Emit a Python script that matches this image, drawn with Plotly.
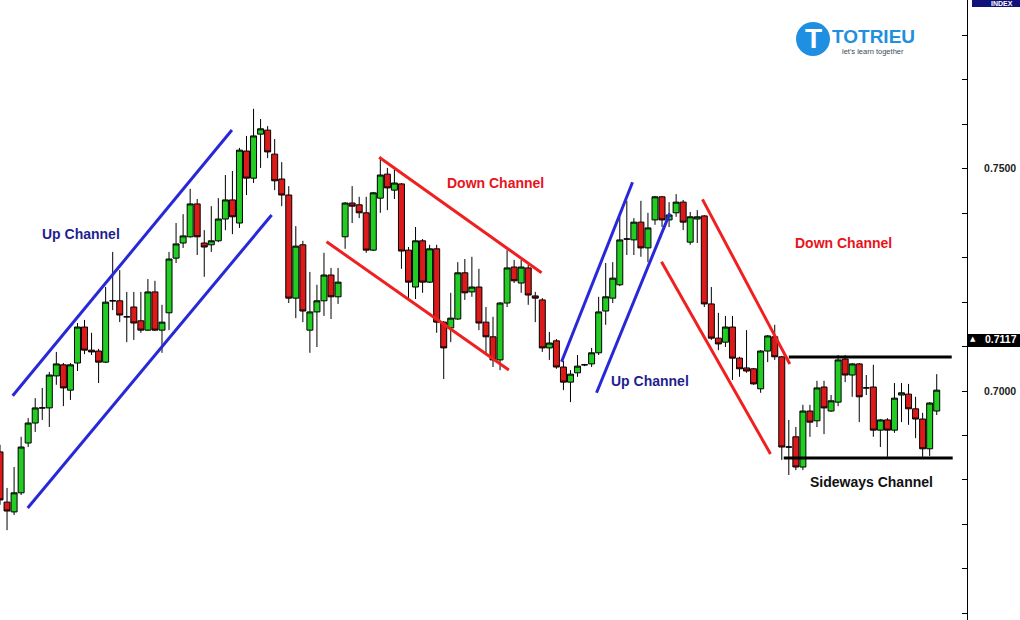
import plotly.graph_objects as go

# ---------------- data ----------------
OPEN = [0.6863, 0.6750, 0.6728, 0.6771, 0.6883, 0.6928, 0.6962, 0.6962, 0.7034, 0.7059,
        0.7002, 0.7063, 0.7144, 0.7092, 0.7090, 0.7065, 0.7203, 0.7203, 0.7167, 0.7189,
        0.7158, 0.7137, 0.7223, 0.7137, 0.7176, 0.7299, 0.7333, 0.7347, 0.7421, 0.7333,
        0.7329, 0.7338, 0.7387, 0.7430, 0.7378, 0.7540, 0.7479, 0.7578, 0.7587, 0.7533,
        0.7477, 0.7441, 0.7209, 0.7329, 0.7137, 0.7178, 0.7203, 0.7261, 0.7212, 0.7347,
        0.7423, 0.7419, 0.7401, 0.7317, 0.7434, 0.7488, 0.7452, 0.7466, 0.7317, 0.7234,
        0.7338, 0.7245, 0.7320, 0.7155, 0.7142, 0.7162, 0.7266, 0.7223, 0.7234, 0.7155,
        0.7122, 0.7070, 0.7198, 0.7279, 0.7243, 0.7277, 0.7214, 0.7205, 0.7097, 0.7113,
        0.7054, 0.7020, 0.7041, 0.7059, 0.7061, 0.7086, 0.7180, 0.7209, 0.7239, 0.7342,
        0.7340, 0.7380, 0.7322, 0.7385, 0.7437, 0.7385, 0.7401, 0.7425, 0.7335, 0.7387,
        0.7394, 0.7196, 0.7119, 0.7110, 0.7144, 0.7074, 0.7052, 0.7050, 0.7005, 0.7090,
        0.7122, 0.7077, 0.6874, 0.6897, 0.6829, 0.6955, 0.6933, 0.7009, 0.6955, 0.6975,
        0.7072, 0.7036, 0.7061, 0.7007, 0.7009, 0.6912, 0.6935, 0.6912, 0.6991, 0.6993,
        0.6960, 0.6937, 0.6870, 0.6955]
HIGH = [0.6879, 0.6782, 0.6829, 0.6897, 0.6939, 0.6984, 0.7007, 0.7043, 0.7088, 0.7063,
        0.7063, 0.7153, 0.7160, 0.7131, 0.7095, 0.7234, 0.7313, 0.7272, 0.7223, 0.7223,
        0.7223, 0.7252, 0.7248, 0.7194, 0.7313, 0.7378, 0.7398, 0.7455, 0.7432, 0.7362,
        0.7416, 0.7434, 0.7486, 0.7495, 0.7547, 0.7574, 0.7635, 0.7612, 0.7596, 0.7567,
        0.7515, 0.7461, 0.7371, 0.7338, 0.7268, 0.7239, 0.7311, 0.7277, 0.7277, 0.7425,
        0.7461, 0.7437, 0.7437, 0.7448, 0.7527, 0.7502, 0.7500, 0.7468, 0.7324, 0.7369,
        0.7342, 0.7329, 0.7329, 0.7157, 0.7221, 0.7290, 0.7297, 0.7302, 0.7275, 0.7189,
        0.7167, 0.7200, 0.7317, 0.7295, 0.7295, 0.7284, 0.7223, 0.7209, 0.7133, 0.7117,
        0.7068, 0.7047, 0.7081, 0.7061, 0.7097, 0.7212, 0.7288, 0.7290, 0.7392, 0.7428,
        0.7389, 0.7428, 0.7401, 0.7439, 0.7439, 0.7425, 0.7443, 0.7430, 0.7403, 0.7407,
        0.7396, 0.7234, 0.7176, 0.7169, 0.7169, 0.7077, 0.7137, 0.7052, 0.7092, 0.7126,
        0.7149, 0.7079, 0.6935, 0.6919, 0.6969, 0.6969, 0.7023, 0.7023, 0.6991, 0.7081,
        0.7081, 0.7063, 0.7063, 0.7036, 0.7059, 0.6937, 0.6939, 0.7018, 0.7018, 0.7016,
        0.6987, 0.6951, 0.6975, 0.7038]
LOW = [0.6744, 0.6687, 0.6721, 0.6766, 0.6874, 0.6908, 0.6935, 0.6919, 0.7014, 0.6966,
       0.6980, 0.7045, 0.7083, 0.7081, 0.7018, 0.7063, 0.7182, 0.7155, 0.7110, 0.7115,
       0.7131, 0.7135, 0.7135, 0.7086, 0.7137, 0.7288, 0.7322, 0.7345, 0.7306, 0.7257,
       0.7313, 0.7335, 0.7362, 0.7353, 0.7367, 0.7441, 0.7468, 0.7502, 0.7524, 0.7452,
       0.7416, 0.7198, 0.7164, 0.7155, 0.7086, 0.7099, 0.7169, 0.7162, 0.7196, 0.7320,
       0.7378, 0.7389, 0.7311, 0.7315, 0.7401, 0.7407, 0.7432, 0.7275, 0.7205, 0.7207,
       0.7221, 0.7243, 0.7131, 0.7027, 0.7110, 0.7160, 0.7205, 0.7212, 0.7137, 0.7081,
       0.7054, 0.7047, 0.7189, 0.7243, 0.7221, 0.7194, 0.7155, 0.7088, 0.7070, 0.7050,
       0.7002, 0.6975, 0.7032, 0.7056, 0.7054, 0.7081, 0.7149, 0.7198, 0.7236, 0.7306,
       0.7306, 0.7302, 0.7290, 0.7374, 0.7369, 0.7369, 0.7392, 0.7362, 0.7329, 0.7333,
       0.7189, 0.7115, 0.7092, 0.7099, 0.7025, 0.7032, 0.7041, 0.7014, 0.6996, 0.7065,
       0.7070, 0.6845, 0.6811, 0.6822, 0.6822, 0.6897, 0.6919, 0.6903, 0.6953, 0.6966,
       0.7020, 0.6987, 0.6930, 0.6991, 0.6897, 0.6874, 0.6852, 0.6906, 0.6930, 0.6924,
       0.6894, 0.6852, 0.6854, 0.6946]
CLOSE = [0.6755, 0.6730, 0.6771, 0.6874, 0.6928, 0.6962, 0.6962, 0.7036, 0.7061, 0.7007,
         0.7059, 0.7144, 0.7092, 0.7088, 0.7065, 0.7200, 0.7203, 0.7171, 0.7167, 0.7153,
         0.7137, 0.7223, 0.7137, 0.7155, 0.7297, 0.7331, 0.7349, 0.7421, 0.7347, 0.7324,
         0.7338, 0.7387, 0.7430, 0.7392, 0.7542, 0.7479, 0.7574, 0.7590, 0.7538, 0.7473,
         0.7441, 0.7209, 0.7326, 0.7180, 0.7178, 0.7203, 0.7261, 0.7212, 0.7245, 0.7423,
         0.7416, 0.7401, 0.7317, 0.7446, 0.7486, 0.7457, 0.7468, 0.7315, 0.7245, 0.7338,
         0.7245, 0.7320, 0.7155, 0.7097, 0.7164, 0.7266, 0.7221, 0.7234, 0.7153, 0.7122,
         0.7070, 0.7198, 0.7277, 0.7248, 0.7279, 0.7216, 0.7209, 0.7097, 0.7108, 0.7054,
         0.7020, 0.7038, 0.7056, 0.7059, 0.7086, 0.7178, 0.7212, 0.7254, 0.7340, 0.7342,
         0.7380, 0.7322, 0.7367, 0.7437, 0.7385, 0.7396, 0.7425, 0.7380, 0.7392, 0.7392,
         0.7196, 0.7119, 0.7106, 0.7144, 0.7074, 0.7050, 0.7045, 0.7016, 0.7090, 0.7124,
         0.7077, 0.6874, 0.6874, 0.6829, 0.6955, 0.6930, 0.7007, 0.6962, 0.6978, 0.7070,
         0.7036, 0.7061, 0.6987, 0.7007, 0.6912, 0.6935, 0.6912, 0.6984, 0.6996, 0.6960,
         0.6937, 0.6870, 0.6973, 0.7002]
BAR_INDEX = list(range(len(OPEN)))

PRICE_TICKS = [0.65, 0.66, 0.67, 0.68, 0.69, 0.70, 0.71, 0.72, 0.73, 0.74, 0.75, 0.76, 0.77, 0.78]
PRICE_LABELS = ["", "", "", "", "", "0.7000", "", "", "", "", "0.7500", "", "", ""]
LAST_PRICE = 0.7117

# channel lines drawn on the chart: (bar0, price0, bar1, price1, kind)
CHANNEL_LINES = [
    (1.80, 0.69894, 32.93, 0.75873, "up"),
    (3.93, 0.67368, 38.57, 0.73960, "up"),
    (53.84, 0.75258, 76.89, 0.72662, "down"),
    (46.37, 0.73359, 72.25, 0.70473, "down"),
    (79.73, 0.70659, 89.81, 0.74696, "up"),
    (84.70, 0.69962, 95.10, 0.73998, "up"),
    (99.74, 0.74313, 112.14, 0.70608, "down"),
    (93.92, 0.72909, 109.40, 0.68583, "down"),
    (112.0, 0.70765, 135.13, 0.70765, "side"),
    (111.28, 0.68493, 135.27, 0.68493, "side"),
]
# channel labels: (text, bar, price, kind)
CHANNEL_LABELS = [
    ("Up Channel", 11.5, 0.73533, "up"),
    ("Down Channel", 70.4, 0.74680, "down"),
    ("Up Channel", 92.26, 0.70225, "up"),
    ("Down Channel", 119.8, 0.73330, "down"),
    ("Sideways Channel", 123.8, 0.67950, "side"),
]

# ---------------- styles ----------------
W, H = 1020, 620
PLOT_RIGHT = 967
GREEN = "#22cc22"
RED = "#dd1a1a"
LINE_COL = {"up": "#2828d8", "down": "#f02020", "side": "#000000"}
TEXT_COL = {"up": "#1f1f8f", "down": "#e8141b", "side": "#111111"}
LOGO_BLUE = "#1e8fe1"


def px(x):
    return x / PLOT_RIGHT


def py(y):
    return 1 - y / H


def label(text, x, y, size, color, bold=True, family="Liberation Sans, Arial", xref="paper", yref="paper"):
    return dict(text=text, x=x, y=y, xref=xref, yref=yref, showarrow=False,
                xanchor="center", yanchor="middle",
                font=dict(family=family, size=size, color=color, weight="bold" if bold else "normal"))


fig = go.Figure(go.Candlestick(
    x=BAR_INDEX, open=OPEN, high=HIGH, low=LOW, close=CLOSE,
    increasing=dict(line=dict(color="black", width=1), fillcolor=GREEN),
    decreasing=dict(line=dict(color="black", width=1), fillcolor=RED),
    whiskerwidth=0, hoverinfo="skip",
))

shapes = []
for x0, y0, x1, y1, kind in CHANNEL_LINES:
    shapes.append(dict(type="line", xref="x", yref="y", x0=x0, y0=y0, x1=x1, y1=y1,
                       line=dict(color=LINE_COL[kind], width=3)))

annotations = []
for text, bx, by, kind in CHANNEL_LABELS:
    annotations.append(label(text, bx, by, 14, TEXT_COL[kind], xref="x", yref="y"))

# INDEX tab at the top of the price scale
shapes.append(dict(type="rect", xref="paper", yref="paper", x0=px(972), x1=px(1020),
                   y0=py(7), y1=py(0), fillcolor="#12127a", line=dict(width=0)))
annotations.append(label("INDEX", px(1002), py(3.5), 7, "white"))

# last price marker
shapes.append(dict(type="rect", xref="paper", yref="paper", x0=px(967), x1=px(1020),
                   y0=py(347), y1=py(334), fillcolor="#000000", line=dict(width=0)))
annotations.append(label("▲", px(973), LAST_PRICE, 7, "white", bold=False,
                         family="DejaVu Sans", yref="y"))
annotations.append(label(f"{LAST_PRICE:.4f}", px(1001), LAST_PRICE, 10.5, "white", yref="y"))

# logo
shapes.append(dict(type="circle", xref="paper", yref="paper", x0=px(796), x1=px(830),
                   y0=py(56), y1=py(22), fillcolor=LOGO_BLUE, line=dict(width=0)))
annotations.append(label("T", px(813), py(39), 28, "white"))
annotations.append(label("TOTRIEU", px(873), py(36), 19, LOGO_BLUE))
annotations.append(label("let's learn together", px(873), py(51), 7.5, "#3a4a5a", bold=False))

fig.update_layout(
    width=W, height=H,
    margin=dict(l=0, r=W - PLOT_RIGHT, t=0, b=0, pad=0),
    paper_bgcolor="white", plot_bgcolor="white",
    showlegend=False, hovermode=False,
    boxgap=0.15, boxgroupgap=0,
    shapes=shapes, annotations=annotations,
    xaxis=dict(range=[0, 137.3], visible=False, rangeslider=dict(visible=False),
               fixedrange=True),
    yaxis=dict(range=[0.64848, 0.78798], side="right", showgrid=False, zeroline=False,
               showline=True, linecolor="black", linewidth=1,
               tickmode="array", tickvals=PRICE_TICKS, ticktext=PRICE_LABELS,
               ticks="inside", ticklen=5, tickcolor="black", ticklabelstandoff=14,
               tickfont=dict(family="Liberation Sans, Arial", size=10.5, color="#222222",
                             weight="bold"),
               fixedrange=True),
)

fig.write_html("out.html", config={"displayModeBar": False, "staticPlot": True},
               post_script="document.body.style.margin='0';document.body.style.overflow='hidden';")
